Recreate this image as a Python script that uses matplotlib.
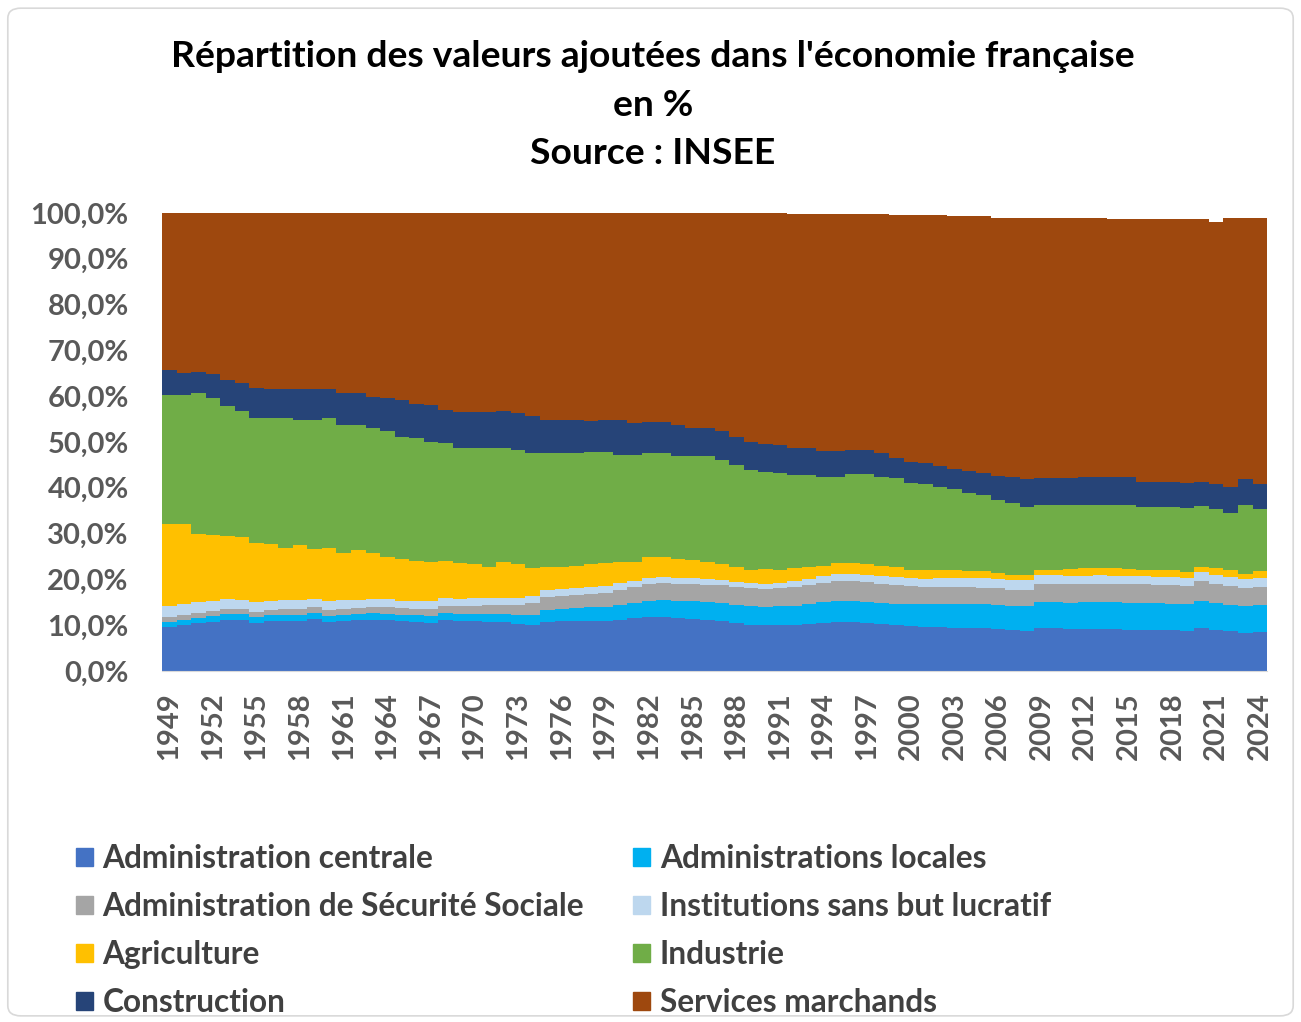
import numpy as np
import matplotlib.pyplot as plt
from matplotlib.patches import FancyBboxPatch, Patch
from matplotlib.ticker import FuncFormatter

plt.rcParams['font.family'] = ['Lato', 'DejaVu Sans']
plt.rcParams['font.weight'] = 'bold'

# --- data (share of value added, %) ---
years = list(range(1949, 2025))

admin_centrale = [
    9.7, 10.1, 10.4, 10.8, 11.1, 11.1, 10.5, 11.0, 11.0, 11.0,
    11.4, 10.8, 11.0, 11.1, 11.2, 11.1, 10.9, 10.7, 10.5, 11.2,
    10.9, 10.9, 10.8, 10.6, 10.2, 10.0, 10.8, 10.9, 10.9, 11.0,
    11.0, 11.2, 11.5, 11.7, 11.7, 11.6, 11.4, 11.1, 10.9, 10.5,
    10.1, 10.0, 10.0, 10.1, 10.3, 10.5, 10.6, 10.6, 10.5, 10.3,
    10.0, 9.8, 9.7, 9.6, 9.5, 9.4, 9.3, 9.1, 8.9, 8.8,
    9.3, 9.3, 9.2, 9.2, 9.2, 9.1, 9.0, 9.0, 8.9, 8.9,
    8.8, 9.3, 8.9, 8.7, 8.4, 8.5]
admin_locales = [
    1.0, 1.1, 1.2, 1.3, 1.3, 1.3, 1.3, 1.3, 1.3, 1.3,
    1.3, 1.3, 1.3, 1.4, 1.4, 1.4, 1.4, 1.5, 1.5, 1.5,
    1.6, 1.6, 1.7, 1.8, 2.0, 2.3, 2.6, 2.7, 2.8, 2.9,
    3.0, 3.2, 3.4, 3.7, 3.8, 3.8, 3.9, 3.9, 3.9, 3.9,
    4.0, 3.9, 4.1, 4.2, 4.3, 4.5, 4.6, 4.6, 4.6, 4.6,
    4.7, 4.8, 4.9, 5.0, 5.1, 5.2, 5.3, 5.4, 5.3, 5.4,
    5.8, 5.8, 5.7, 5.8, 5.9, 5.9, 5.9, 5.9, 5.9, 5.8,
    5.8, 6.1, 5.9, 5.8, 5.8, 5.9]
admin_secu = [
    1.0, 1.0, 1.1, 1.1, 1.1, 1.1, 1.1, 1.1, 1.2, 1.2,
    1.2, 1.2, 1.3, 1.3, 1.3, 1.4, 1.4, 1.4, 1.5, 1.6,
    1.7, 1.8, 1.9, 2.1, 2.3, 2.5, 2.7, 2.8, 2.9, 3.0,
    3.1, 3.3, 3.4, 3.6, 3.7, 3.7, 3.8, 3.8, 3.9, 3.9,
    4.0, 4.0, 4.0, 4.1, 4.2, 4.3, 4.4, 4.4, 4.3, 4.2,
    4.1, 3.9, 3.8, 3.8, 3.7, 3.7, 3.6, 3.6, 3.5, 3.5,
    4.0, 4.0, 4.0, 4.0, 4.0, 4.0, 4.0, 4.0, 4.0, 4.0,
    4.0, 4.3, 4.2, 4.0, 3.9, 3.9]
isbl = [
    2.5, 2.4, 2.3, 2.2, 2.2, 2.1, 2.1, 2.0, 2.0, 2.0,
    1.9, 1.9, 1.9, 1.8, 1.8, 1.8, 1.7, 1.7, 1.7, 1.6,
    1.6, 1.6, 1.5, 1.5, 1.5, 1.5, 1.5, 1.5, 1.5, 1.5,
    1.5, 1.5, 1.4, 1.4, 1.4, 1.3, 1.3, 1.2, 1.2, 1.1,
    1.1, 1.1, 1.2, 1.2, 1.3, 1.4, 1.5, 1.5, 1.5, 1.6,
    1.7, 1.8, 1.8, 1.9, 2.0, 2.0, 2.1, 2.1, 2.2, 2.2,
    1.9, 1.8, 1.8, 1.8, 1.8, 1.8, 1.8, 1.8, 1.8, 1.8,
    1.8, 2.0, 2.0, 2.1, 2.1, 2.1]
agriculture = [
    17.9, 17.5, 15.0, 14.2, 13.8, 13.6, 13.0, 12.4, 11.3, 12.0,
    10.8, 11.6, 10.3, 10.9, 10.1, 9.2, 9.0, 8.7, 8.7, 8.2,
    7.7, 7.5, 6.9, 7.9, 7.4, 6.1, 5.1, 4.9, 4.9, 4.9,
    4.9, 4.7, 4.2, 4.4, 4.2, 4.0, 3.8, 3.9, 3.4, 3.3,
    2.9, 3.3, 2.8, 2.8, 2.6, 2.3, 2.5, 2.5, 2.5, 2.2,
    2.3, 1.8, 1.9, 1.8, 1.7, 1.5, 1.5, 1.3, 1.1, 1.1,
    1.1, 1.2, 1.5, 1.6, 1.7, 1.7, 1.5, 1.3, 1.5, 1.5,
    1.2, 1.1, 1.5, 1.5, 0.9, 1.4]
industrie = [
    28.2, 28.2, 30.8, 29.9, 28.4, 27.6, 27.2, 27.4, 28.4, 27.3,
    28.2, 28.4, 27.9, 27.2, 27.2, 27.4, 26.8, 26.8, 26.2, 25.6,
    25.3, 25.2, 25.8, 24.9, 24.9, 25.3, 24.8, 24.7, 24.5, 24.6,
    24.4, 23.3, 23.3, 22.9, 22.9, 22.5, 22.7, 23.0, 22.8, 22.3,
    21.8, 21.1, 21.1, 20.5, 20.2, 19.4, 18.8, 19.4, 19.6, 19.5,
    19.3, 19.0, 18.7, 18.1, 17.8, 17.0, 16.6, 15.8, 15.6, 14.9,
    14.1, 14.1, 14.0, 13.9, 13.7, 13.8, 14.1, 13.9, 13.8, 13.9,
    13.9, 13.2, 12.9, 12.4, 15.2, 13.5]
construction = [
    5.4, 4.8, 4.5, 5.3, 5.6, 6.0, 6.5, 6.3, 6.3, 6.7,
    6.7, 6.3, 7.1, 7.1, 6.9, 7.2, 8.0, 7.6, 8.0, 7.3,
    7.8, 8.0, 8.0, 8.0, 8.0, 8.0, 7.4, 7.4, 7.4, 6.7,
    7.0, 7.7, 7.0, 6.7, 6.7, 6.8, 6.1, 6.1, 6.2, 6.2,
    6.2, 6.1, 6.1, 5.7, 5.7, 5.7, 5.7, 5.3, 5.3, 5.1,
    4.5, 4.6, 4.6, 4.6, 4.4, 4.9, 4.8, 5.3, 5.8, 6.0,
    5.9, 5.9, 5.9, 6.1, 6.1, 6.1, 6.1, 5.4, 5.4, 5.4,
    5.6, 5.3, 5.4, 5.6, 5.7, 5.5]
services = [
    34.3, 34.9, 34.7, 35.2, 36.5, 37.2, 38.3, 38.5, 38.5, 38.5,
    38.5, 38.5, 39.2, 39.2, 40.1, 40.5, 40.8, 41.6, 41.9, 43.0,
    43.4, 43.4, 43.4, 43.2, 43.7, 44.3, 45.1, 45.1, 45.1, 45.4,
    45.1, 45.1, 45.8, 45.6, 45.6, 46.3, 47.0, 47.0, 47.7, 48.7,
    49.8, 50.6, 50.6, 51.1, 51.1, 51.6, 51.6, 51.4, 51.4, 52.2,
    52.9, 53.8, 54.1, 54.7, 55.1, 55.6, 56.1, 56.4, 56.6, 57.1,
    56.9, 56.7, 56.7, 56.4, 56.4, 56.2, 56.2, 57.3, 57.3, 57.3,
    57.5, 57.4, 57.2, 58.7, 56.9, 58.0]

labels = ["Administration centrale", "Administrations locales",
          "Administration de Sécurité Sociale", "Institutions sans but lucratif",
          "Agriculture", "Industrie", "Construction", "Services marchands"]
colors = ["#4472C4", "#00B0F0", "#A5A5A5", "#BDD7EE",
          "#FFC000", "#70AD47", "#264478", "#9E480E"]
series = [admin_centrale, admin_locales, admin_secu, isbl,
          agriculture, industrie, construction, services]

# ---- PLOTTING ----
fig = plt.figure(figsize=(13.01, 10.22), dpi=100)
ax = fig.add_axes([0.1245, 0.3434, 0.8494, 0.4482])

x = np.arange(len(years))
edges = np.arange(len(years) + 1) - 0.5
bottom = np.zeros(len(years))
for vals, col in zip(series, colors):
    top = bottom + np.array(vals) / 100
    # 100% stacked columns with no gap -> one stepped band per series
    ax.stairs(top, edges, baseline=bottom, fill=True, color=col, linewidth=0)
    bottom = top

ax.set_xlim(-0.5, len(years) - 0.5)
ax.set_ylim(0, 1.0)
ax.set_yticks(np.arange(0, 1.01, 0.1))
ax.yaxis.set_major_formatter(FuncFormatter(lambda v, p: f"{v*100:.1f}%".replace(".", ",")))
ax.set_xticks(x[::3])
ax.set_xticklabels([str(y) for y in years[::3]], rotation=90)
ax.tick_params(axis='both', length=0, colors="#595959")
ax.tick_params(axis='x', pad=15, labelsize=21)
ax.tick_params(axis='y', pad=24, labelsize=21)
for s in ["top", "right", "left"]:
    ax.spines[s].set_visible(False)
ax.spines["bottom"].set_color("#D9D9D9")

fig.text(0.502, 0.961, "Répartition des valeurs ajoutées dans l'économie française\nen %\nSource : INSEE",
         ha="center", va="top", fontsize=26.8, color="#000000", linespacing=1.58)

order = [0, 2, 4, 6, 1, 3, 5, 7]
handles = [Patch(color=colors[i]) for i in order]
fig.legend(handles, [labels[i] for i in order], ncol=2, loc="upper left",
           bbox_to_anchor=(0.0584, 0.174), frameon=False, fontsize=22.8,
           labelcolor="#404040", handlelength=0.53, handleheight=0.53,
           handletextpad=0.31, columnspacing=1.55, labelspacing=0.6,
           borderpad=0, borderaxespad=0)

fig.patches.append(FancyBboxPatch((0.006, 0.006), 0.988, 0.986,
                                  boxstyle="round,pad=0,rounding_size=0.01",
                                  transform=fig.transFigure, fill=False,
                                  edgecolor="#D9D9D9", linewidth=1.2))

fig.savefig("out.png", dpi=100)
